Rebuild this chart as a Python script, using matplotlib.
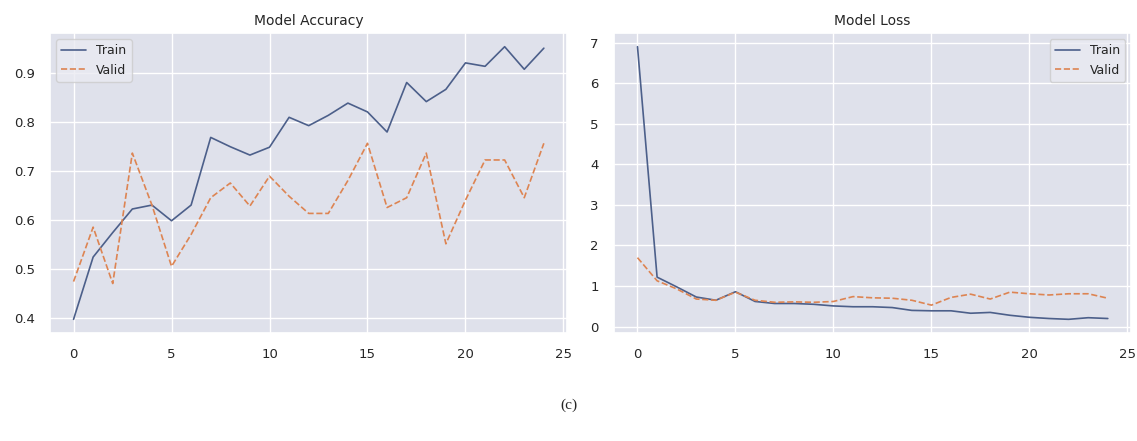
import matplotlib
matplotlib.use("Agg")
import matplotlib.pyplot as plt
import seaborn as sns

epochs = list(range(25))

acc_train = [0.397, 0.524, 0.574, 0.622, 0.630, 0.598, 0.630, 0.768, 0.749, 0.732, 0.748,
             0.809, 0.792, 0.813, 0.838, 0.820, 0.779, 0.880, 0.841, 0.866, 0.920,
             0.913, 0.953, 0.907, 0.950]
acc_valid = [0.474, 0.585, 0.470, 0.736, 0.630, 0.505, 0.570, 0.645, 0.675, 0.628, 0.689,
             0.648, 0.613, 0.613, 0.680, 0.756, 0.625, 0.645, 0.736, 0.551, 0.640,
             0.722, 0.722, 0.645, 0.756]

loss_train = [6.90, 1.22, 0.98, 0.73, 0.65, 0.86, 0.62, 0.57, 0.57, 0.55, 0.51,
              0.49, 0.49, 0.47, 0.40, 0.39, 0.39, 0.33, 0.35, 0.28, 0.23,
              0.20, 0.18, 0.22, 0.20]
loss_valid = [1.70, 1.13, 0.93, 0.68, 0.65, 0.85, 0.65, 0.60, 0.61, 0.60, 0.62,
              0.74, 0.71, 0.70, 0.65, 0.53, 0.72, 0.80, 0.68, 0.85, 0.81,
              0.78, 0.81, 0.81, 0.70]

sns.set_theme(style="darkgrid")
plt.rcParams['font.family'] = ['DejaVu Sans']

fig = plt.figure(figsize=(11.37, 4.41), dpi=100)
ax1 = fig.add_axes([0.044, 0.245, 0.455, 0.68])
ax2 = fig.add_axes([0.540, 0.245, 0.455, 0.68])

blue = "#4c5f8a"
orange = "#dd8452"

ax1.plot(epochs, acc_train, '-', color=blue, linewidth=1.2, label="Train")
ax1.plot(epochs, acc_valid, '--', color=orange, linewidth=1.2, label="Valid")
ax1.set_title("Model Accuracy", fontsize=10)
ax1.legend(loc="upper left", fontsize=9)

ax2.plot(epochs, loss_train, '-', color=blue, linewidth=1.2, label="Train")
ax2.plot(epochs, loss_valid, '--', color=orange, linewidth=1.2, label="Valid")
ax2.set_title("Model Loss", fontsize=10)
ax2.legend(loc="upper right", fontsize=9)

for ax in (ax1, ax2):
    ax.set_facecolor("#dfe1eb")
    ax.set_xticks([0, 5, 10, 15, 20, 25])
    ax.tick_params(labelsize=9.5, pad=5)

fig.text(0.5, 0.08, "(c)", ha="center", va="center", fontsize=11, family="Liberation Serif")

plt.savefig("out.png", dpi=100)
